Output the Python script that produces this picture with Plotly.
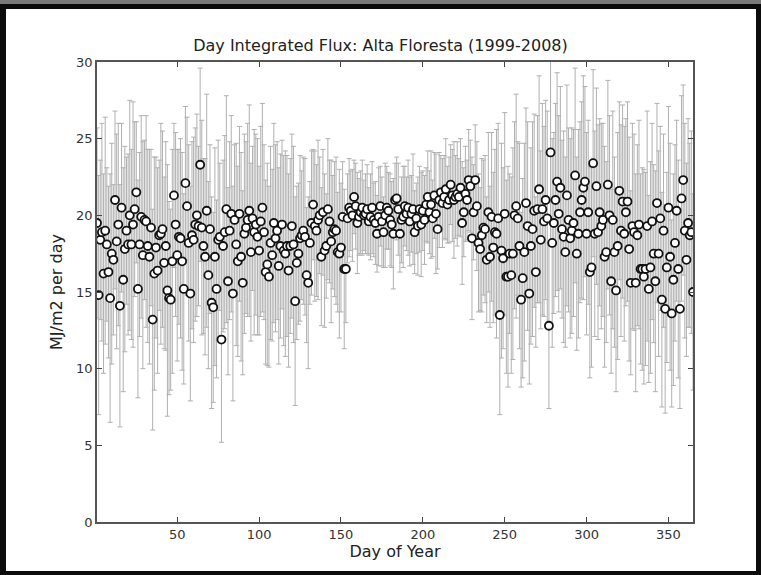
import plotly.graph_objects as go

# Mean daily integrated flux (MJ/m2 per day), day 1..365
flux_a = [
    19.5, 14.8, 18.4, 18.9, 16.2, 19.0, 18.1, 16.3, 14.6, 17.5,
    17.1, 21.0, 18.3, 19.4, 14.1, 20.5, 15.8, 17.8, 19.0, 18.1,
    20.0, 18.1, 19.4, 20.4, 21.5, 15.2, 18.1, 19.9, 17.4, 19.7,
    19.6, 18.0, 17.3, 19.2, 13.2, 16.2, 17.9, 16.4, 18.7, 18.8,
    19.1, 16.9, 18.0, 15.1, 14.6, 14.5, 17.0, 21.3, 19.4, 17.4,
    18.6, 18.5, 17.0, 15.2, 22.1, 20.6, 18.2, 14.9, 18.7, 18.4,
    19.4,
]
flux_b = [
    20.0, 19.3, 23.3, 19.2, 18.0, 17.3, 20.3, 16.1, 19.1, 14.3,
    14.0, 17.3, 15.2, 18.4, 18.6, 11.9, 18.0, 18.9, 20.4, 15.7,
    19.0, 20.1, 14.9, 19.7, 18.1, 17.0, 20.1, 17.3, 15.6, 18.8,
    19.2, 19.7, 20.3, 17.6, 19.8, 18.9, 19.4, 18.6, 17.7, 19.6,
    20.5, 18.9, 16.3, 16.8, 16.0, 18.2, 17.4, 19.5, 18.5, 19.0,
    16.7, 18.0, 19.4, 17.7, 17.5, 18.0, 16.4, 18.0, 19.3, 18.1,
    14.4,
]
flux_c = [
    16.9, 17.5, 18.5, 18.7, 19.0, 18.6, 16.1, 15.6, 18.2, 19.5,
    20.7, 19.3, 19.0, 19.7, 20.0, 17.3, 20.2, 17.7, 18.0, 20.4,
    19.6, 18.3, 18.9, 19.1, 19.0, 17.6, 17.5, 17.9, 19.9, 16.5,
    16.5, 19.8, 20.5, 20.3, 20.0, 21.2, 20.6, 19.5, 19.9, 20.2,
    20.5, 20.0, 20.1, 20.4, 19.6, 19.9, 20.5, 19.7, 19.5, 18.8,
    19.9, 20.6, 19.6, 18.9, 20.0, 20.5, 20.3, 19.7, 19.4, 18.8,
    21.0,
]
flux_d = [
    21.1, 20.4, 18.8, 19.7, 19.9, 20.6, 20.1, 20.5, 19.6, 20.1,
    20.4, 18.9, 19.8, 19.3, 20.4, 19.4, 20.3, 19.7, 20.7, 21.2,
    20.2, 20.7, 19.8, 21.3, 20.1, 19.1, 21.0, 21.5, 20.8, 21.2,
    21.7, 20.7, 21.0, 22.0, 21.3, 21.0, 21.2, 21.4, 21.2, 21.8,
    19.5, 20.2, 21.4, 21.0, 22.3, 21.9, 18.5, 20.2, 22.3, 20.6,
    18.2, 17.8, 18.7, 19.2, 19.1, 17.1, 20.2, 17.3, 19.9, 17.9,
    18.9,
]
flux_e = [
    18.8, 19.8, 13.5, 17.7, 17.2, 20.1, 16.0, 16.0, 17.5, 16.1,
    17.5, 20.0, 20.6, 19.8, 18.0, 14.5, 15.9, 17.6, 20.8, 19.3,
    14.9, 18.0, 19.1, 20.3, 16.3, 20.4, 21.7, 18.4, 20.4, 19.6,
    21.0, 19.8, 12.8, 24.1, 18.2, 19.5, 21.0, 22.2, 20.1, 21.8,
    19.1, 18.6, 17.6, 21.3, 19.7, 18.5, 19.0, 19.5, 22.6, 17.5,
    18.8, 20.2, 21.0, 21.8, 22.2, 18.8, 20.2, 16.3, 16.6, 23.4,
    18.8,
]
flux_f = [
    21.9, 18.9, 20.2, 19.3, 19.7, 17.3, 17.6, 22.0, 20.0, 15.7,
    19.7, 17.6, 15.1, 18.0, 21.6, 19.0, 20.9, 18.8, 20.2, 20.9,
    17.8, 15.6, 19.3, 18.9, 15.6, 18.7, 19.4, 16.5, 16.5, 16.0,
    16.5, 19.3, 15.2, 16.6, 19.6, 17.5, 15.7, 20.8, 17.5, 19.8,
    14.5, 19.0, 13.9, 16.6, 20.5, 17.3, 13.6, 15.8, 18.2, 20.3,
    16.5, 13.9, 21.1, 22.3, 19.0, 17.1, 19.5, 18.7, 18.9, 15.0,
]

# Error bar half-widths (standard deviation), same day order
err_a = [
    6.2, 7.8, 5.2, 7.1, 6.5, 7.4, 5.0, 5.6, 8.1, 7.2,
    4.9, 5.8, 7.0, 6.6, 7.9, 5.5, 7.3, 6.7, 4.8, 5.9,
    7.5, 6.2, 8.0, 5.7, 4.6, 7.1, 6.0, 6.6, 7.4, 5.2,
    6.9, 6.3, 7.0, 5.1, 7.2, 7.6, 5.9, 6.7, 4.9, 7.2,
    6.4, 5.6, 6.8, 8.2, 6.3, 5.9, 7.3, 4.7, 6.0, 6.9,
    5.7, 6.5, 7.1, 6.2, 5.0, 5.8, 6.4, 7.0, 6.1, 6.7,
    6.3,
]
err_b = [
    6.6, 5.2, 6.3, 7.0, 5.7, 6.4, 7.6, 6.1, 5.5, 6.9,
    6.2, 7.1, 5.8, 6.5, 4.8, 6.7, 5.6, 6.3, 7.4, 6.1,
    5.8, 6.4, 7.0, 4.9, 6.6, 6.2, 5.7, 6.8, 6.0, 6.5,
    5.6, 6.3, 6.9, 5.8, 4.7, 6.7, 5.9, 6.4, 5.5, 6.2,
    6.8, 5.7, 6.0, 6.6, 5.9, 6.3, 5.6, 6.5, 6.1, 5.8,
    6.4, 6.0, 5.5, 6.2, 6.7, 5.9, 6.3, 5.7, 6.0, 6.4,
    6.8,
]
err_c = [
    5.0, 4.6, 5.4, 4.2, 4.8, 5.1, 4.4, 5.6, 4.0, 4.7,
    3.6, 4.9, 4.3, 5.2, 3.8, 4.5, 4.1, 5.0, 3.4, 4.6,
    4.0, 5.3, 3.7, 4.4, 4.8, 3.9, 5.5, 4.2, 3.6, 5.2,
    3.5, 2.9, 3.2, 2.6, 3.0, 2.4, 2.8, 3.3, 2.5, 2.7,
    3.1, 2.3, 2.6, 2.9, 2.2, 2.8, 3.0, 2.4, 2.7, 2.5,
    3.2, 2.6, 2.9, 2.3, 3.4, 2.7, 2.5, 3.0, 2.8, 3.6,
    2.4,
]
err_d = [
    2.7, 3.0, 2.5, 2.8, 3.3, 2.6, 2.4, 3.1, 2.9, 2.5,
    3.6, 2.7, 2.3, 3.2, 2.8, 3.4, 2.6, 2.9, 2.4, 3.0,
    2.7, 3.5, 2.5, 2.8, 3.9, 2.6, 3.1, 2.4, 2.9, 2.7,
    3.3, 2.5, 2.8, 2.6, 3.0, 3.8, 2.7, 3.4, 2.5, 3.2,
    4.0, 2.9, 3.1, 2.6, 3.3, 3.0, 5.3, 3.1, 3.6, 4.2,
    4.5, 4.0, 5.0, 4.4, 4.8, 4.1, 5.2, 4.6, 5.5, 4.9,
    5.4,
]
err_e = [
    6.8, 6.2, 6.5, 7.0, 5.9, 6.6, 6.3, 7.2, 5.2, 6.4,
    6.9, 6.1, 7.3, 5.0, 6.7, 5.7, 6.5, 7.1, 6.2, 6.8,
    5.9, 6.4, 7.0, 6.3, 4.9, 6.1, 7.4, 5.8, 6.9, 6.2,
    6.5, 7.0, 5.4, 6.0, 6.8, 5.9, 6.3, 7.1, 6.4, 6.6,
    5.8, 6.9, 6.2, 7.2, 6.0, 6.5, 6.7, 6.1, 7.0, 6.3,
    6.8, 5.9, 6.4, 7.3, 6.2, 6.6, 6.0, 6.9, 6.5, 6.1,
    6.7,
]
err_f = [
    6.4, 7.0, 6.1, 6.7, 6.3, 7.2, 5.9, 6.8, 6.5, 6.0,
    7.1, 6.2, 6.6, 7.4, 5.8, 6.9, 6.3, 7.0, 6.1, 6.5,
    7.3, 6.0, 6.7, 6.4, 7.1, 5.9, 6.8, 6.2, 6.6, 7.0,
    6.3, 7.5, 6.1, 6.9, 6.4, 5.8, 7.2, 6.5, 6.7, 6.0,
    7.0, 6.3, 6.8, 6.2, 6.6, 7.4, 6.1, 6.9, 6.4, 5.9,
    7.1, 6.5, 6.7, 6.2, 7.0, 6.3, 6.8, 6.0, 6.6, 6.4,
]

flux = flux_a + flux_b + flux_c + flux_d + flux_e + flux_f
err = err_a + err_b + err_c + err_d + err_e + err_f
days = list(range(1, len(flux) + 1))

x_ticks = [50, 100, 150, 200, 250, 300, 350]
y_ticks = [0, 5, 10, 15, 20, 25, 30]

FONT = "DejaVu Sans"

fig = go.Figure()
fig.add_trace(go.Scatter(
    x=days, y=flux, mode="markers",
    error_y=dict(type="data", array=err, visible=True,
                 color="#b0b0b0", thickness=1, width=2.5),
    marker=dict(size=8, color="white", line=dict(color="#111111", width=1.8)),
    cliponaxis=True, showlegend=False,
))

# frame around the picture
W, H = 761, 575
ml, mr, mt, mb = 97, 68, 62, 53
pw, ph = W - ml - mr, H - mt - mb
def px(x):
    return (x - ml) / pw
def py(y):
    return (H - mb - y) / ph

shapes = [
    dict(type="rect", xref="paper", yref="paper", layer="below",
         x0=px(0), x1=px(W), y0=py(0), y1=py(4), fillcolor="#7a7a7a", line_width=0),
    dict(type="rect", xref="paper", yref="paper", layer="below",
         x0=px(6), x1=px(756), y0=py(9), y1=py(571), fillcolor="white", line_width=0),
]

fig.update_layout(
    width=W, height=H,
    margin=dict(l=ml, r=mr, t=mt, b=mb, pad=0),
    paper_bgcolor="#0c0c0c", plot_bgcolor="white",
    shapes=shapes,
    title=dict(text="Day Integrated Flux: Alta Floresta (1999-2008)",
               x=px(395), xanchor="center", y=1 - 45 / H, yanchor="middle",
               font=dict(family=FONT, size=16, color="#222222")),
    font=dict(family=FONT, color="#222222"),
    xaxis=dict(range=[1, 365], tickvals=x_ticks, ticks="inside", ticklen=5,
               tickcolor="#444444", showline=True, linecolor="#555555", linewidth=1.5,
               mirror="ticks", showgrid=False, zeroline=False,
               tickfont=dict(family=FONT, size=13, color="#333333"),
               title=dict(text="Day of Year", standoff=4,
                          font=dict(family=FONT, size=16, color="#222222"))),
    yaxis=dict(range=[0, 30], tickvals=y_ticks, ticks="inside", ticklen=5,
               tickcolor="#444444", showline=True, linecolor="#555555", linewidth=1.5,
               mirror="ticks", showgrid=False, zeroline=False,
               tickfont=dict(family=FONT, size=13, color="#333333"),
               title=dict(text="MJ/m2 per day", standoff=10,
                          font=dict(family=FONT, size=16, color="#222222"))),
)

fig.write_html("out.html")
